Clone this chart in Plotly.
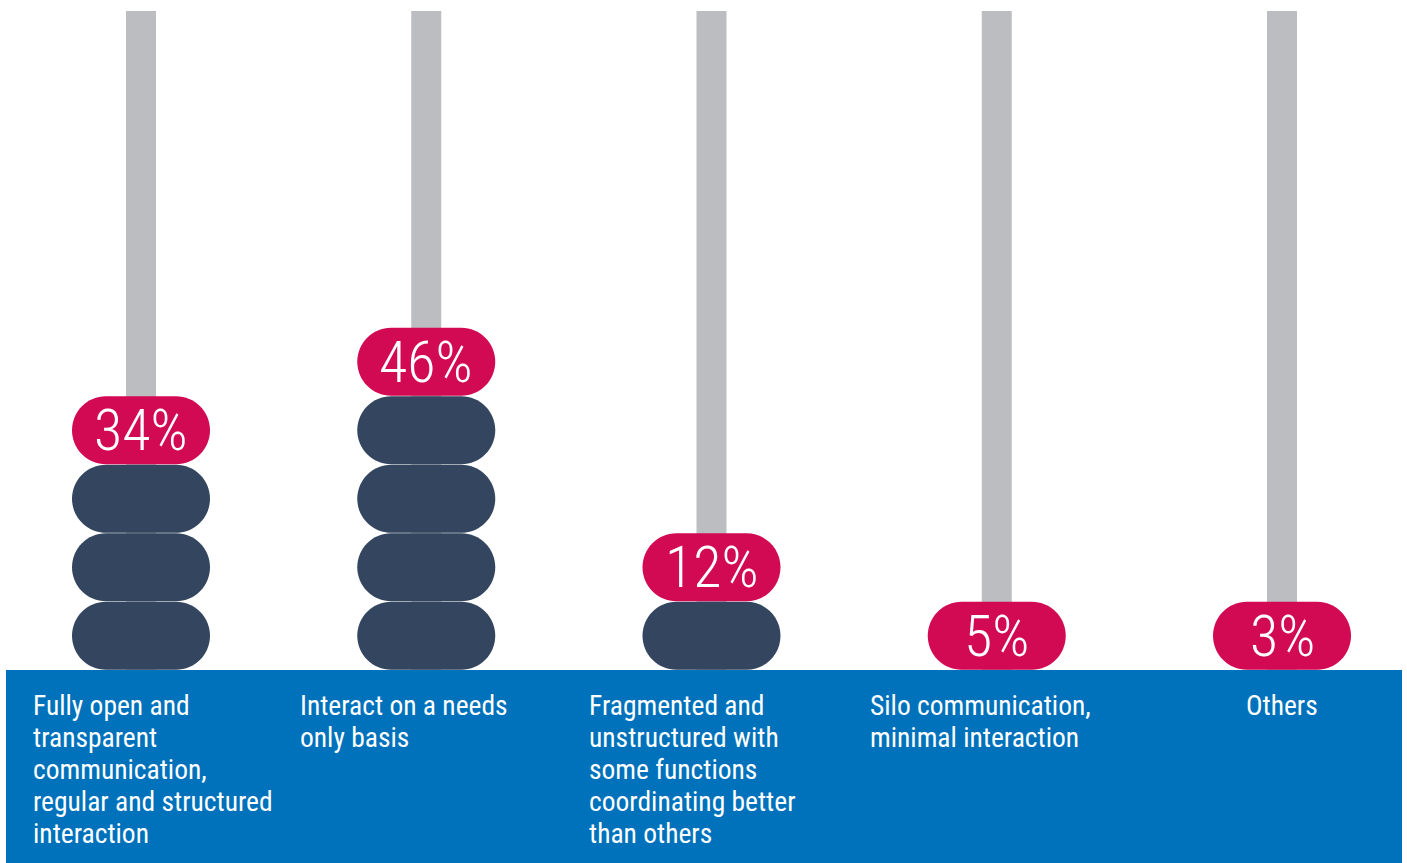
import plotly.graph_objects as go

# Survey responses: how functions within the organisation communicate
categories = [
    "Fully open and<br>transparent<br>communication,<br>regular and structured<br>interaction",
    "Interact on a needs<br>only basis",
    "Fragmented and<br>unstructured with<br>some functions<br>coordinating better<br>than others",
    "Silo communication,<br>minimal interaction",
    "Others",
]
values = [34, 46, 12, 5, 3]

# Canvas geometry (pixels)
W, H = 1407, 863
ROD_X0 = 141          # pixel centre of first rod
ROD_STEP = 285.25     # pixels between rods
BASE_Y = 670          # pixel row of the abacus base
UNIT = 68.5           # pixels per bead
LINE_H = 32           # label line height

x_range = [-ROD_X0 / ROD_STEP, (W - ROD_X0) / ROD_STEP]
y_range = [-(H - BASE_Y) / UNIT, BASE_Y / UNIT]

def px_x(p):
    return p / ROD_STEP

def px_y(p):
    return p / UNIT

DARK = "#34465F"
RED = "#D20A54"
ROD = "#BCBDC0"
BAND = "#0071BB"

FONT = "Roboto Condensed, Liberation Sans Narrow, sans-serif"


def pill(cx, cy, w_px, h_px):
    rx = px_x(h_px / 2)
    ry = px_y(h_px / 2)
    half = px_x(w_px / 2) - rx
    xl, xr = cx - half, cx + half
    k = 0.5523
    t, b = cy + ry, cy - ry
    return (
        f"M {xl},{t} L {xr},{t} "
        f"C {xr + k * rx},{t} {xr + rx},{cy + k * ry} {xr + rx},{cy} "
        f"C {xr + rx},{cy - k * ry} {xr + k * rx},{b} {xr},{b} "
        f"L {xl},{b} "
        f"C {xl - k * rx},{b} {xl - rx},{cy - k * ry} {xl - rx},{cy} "
        f"C {xl - rx},{cy + k * ry} {xl - k * rx},{t} {xl},{t} Z"
    )


shapes = []
annotations = []

# blue base band
shapes.append(dict(type="rect", xref="paper", yref="paper",
                   x0=6 / W, x1=1402 / W, y0=0, y1=(H - BASE_Y) / H,
                   fillcolor=BAND, line=dict(width=0), layer="below"))

rod_top = px_y(BASE_Y - 11)
rod_half = px_x(15)
label_offsets = [-110, -128, -125, -129, None]

for i, (cat, val) in enumerate(zip(categories, values)):
    # rod
    shapes.append(dict(type="rect", xref="x", yref="y",
                       x0=i - rod_half, x1=i + rod_half, y0=0, y1=rod_top,
                       fillcolor=ROD, line=dict(width=0), layer="below"))
    n_dark = val // 10
    for j in range(n_dark):
        shapes.append(dict(type="path", xref="x", yref="y",
                           path=pill(i, j + 0.5, 138, 68),
                           fillcolor=DARK, line=dict(width=0)))
    shapes.append(dict(type="path", xref="x", yref="y",
                       path=pill(i, n_dark + 0.5, 138, 68),
                       fillcolor=RED, line=dict(width=0)))
    annotations.append(dict(x=i, y=n_dark + 0.5, xref="x", yref="y",
                            text=f"{val}%", showarrow=False,
                            font=dict(family=FONT, size=58, weight=300, color="white"),
                            xanchor="center", yanchor="middle"))
    # category label, one line at a time for a tight line height
    off = label_offsets[i]
    for k, line in enumerate(cat.split("<br>")):
        y_line = px_y(-17 - k * LINE_H)
        if off is None:
            annotations.append(dict(x=i, y=y_line, xref="x", yref="y",
                                    text=line, showarrow=False,
                                    font=dict(family=FONT, size=27.5, color="white"),
                                    xanchor="center", yanchor="top"))
        else:
            annotations.append(dict(x=i + px_x(off), y=y_line, xref="x", yref="y",
                                    text=line, showarrow=False,
                                    font=dict(family=FONT, size=27.5, color="white"),
                                    xanchor="left", yanchor="top"))

fig = go.Figure()
fig.add_trace(go.Scatter(x=[None], y=[None], showlegend=False, hoverinfo="skip"))
fig.update_layout(
    width=W, height=H,
    margin=dict(l=0, r=0, t=0, b=0),
    paper_bgcolor="white", plot_bgcolor="white",
    xaxis=dict(range=x_range, visible=False, fixedrange=True),
    yaxis=dict(range=y_range, visible=False, fixedrange=True),
    shapes=shapes, annotations=annotations, showlegend=False,
)
fig.write_html("out.html")
